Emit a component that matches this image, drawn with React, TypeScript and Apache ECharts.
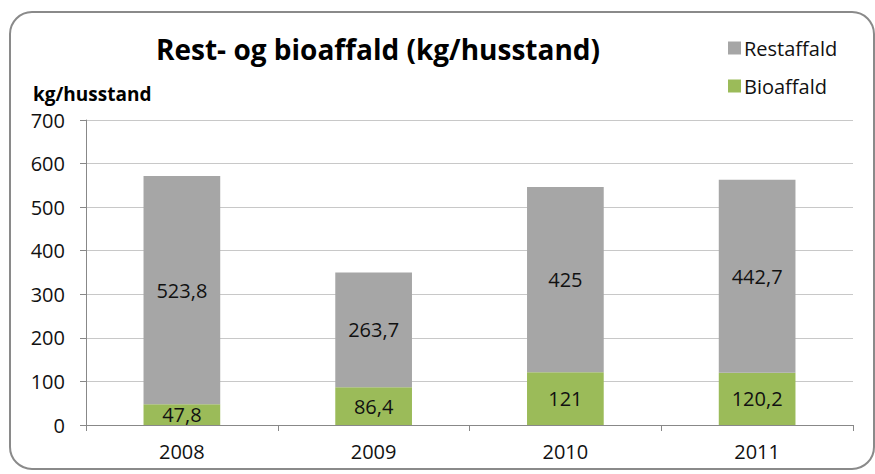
import React, { useEffect, useRef } from "react";
import * as echarts from "echarts";

const years = ["2008", "2009", "2010", "2011"];
const bioaffald = [47.8, 86.4, 121, 120.2];
const restaffald = [523.8, 263.7, 425, 442.7];

const FONT = "'Open Sans', 'Noto Sans', sans-serif";
const fmt = (v: number) => String(v).replace(".", ",");

export default function App() {
  const ref = useRef<HTMLDivElement>(null);
  useEffect(() => {
    document.body.style.margin = "0";
    const chart = echarts.init(ref.current!, null, { renderer: "svg" });
    chart.setOption({
      animation: false,
      backgroundColor: "#fff",
      textStyle: { fontFamily: FONT },
      graphic: [
        {
          type: "rect",
          shape: { x: 10, y: 12, width: 864, height: 457, r: 22 },
          style: { fill: "none", stroke: "#8a8a8a", lineWidth: 2 },
          silent: true,
        },
      ],
      title: {
        text: "Rest- og bioaffald (kg/husstand)",
        left: 373,
        textAlign: "center",
        top: 30,
        textStyle: { fontFamily: FONT, fontSize: 28, fontWeight: "bold", color: "#000" },
      },
      legend: {
        orient: "vertical",
        left: 723,
        top: 33,
        itemGap: 18,
        itemWidth: 13,
        itemHeight: 13,
        icon: "rect",
        data: ["Restaffald", "Bioaffald"],
        textStyle: { fontFamily: FONT, fontSize: 20, color: "#111", padding: [0, 0, 0, -2] },
      },
      grid: { left: 86, right: 22, top: 120, bottom: 49, containLabel: false },
      xAxis: {
        type: "category",
        data: years,
        axisLine: { lineStyle: { color: "#888" } },
        axisTick: { show: true, length: 6, lineStyle: { color: "#888" } },
        axisLabel: { fontFamily: FONT, fontSize: 20, color: "#111", margin: 16 },
      },
      yAxis: {
        type: "value",
        min: 0,
        max: 700,
        interval: 100,
        name: "kg/husstand",
        nameLocation: "end",
        nameGap: 0,
        nameTextStyle: {
          fontFamily: FONT,
          fontSize: 19,
          fontWeight: "bold",
          color: "#000",
          align: "left",
          padding: [0, 0, 17, -53],
        },
        axisLine: { show: true, lineStyle: { color: "#888" } },
        axisTick: { show: true, length: 6, lineStyle: { color: "#888" } },
        splitLine: { lineStyle: { color: "#c8c8c8" } },
        axisLabel: { fontFamily: FONT, fontSize: 20, color: "#111", margin: 21 },
      },
      series: [
        {
          name: "Bioaffald",
          type: "bar",
          stack: "total",
          data: bioaffald,
          barWidth: "40%",
          itemStyle: { color: "#9bbb59" },
          label: {
            show: true,
            position: "inside",
            formatter: (p: any) => fmt(p.value),
            fontFamily: FONT,
            fontSize: 20,
            color: "#111",
          },
        },
        {
          name: "Restaffald",
          type: "bar",
          stack: "total",
          data: restaffald,
          barWidth: "40%",
          itemStyle: { color: "#a6a6a6" },
          label: {
            show: true,
            position: "inside",
            formatter: (p: any) => fmt(p.value),
            fontFamily: FONT,
            fontSize: 20,
            color: "#111",
          },
        },
      ],
    });
    return () => chart.dispose();
  }, []);
  return <div ref={ref} style={{ width: 875, height: 474 }} />;
}
